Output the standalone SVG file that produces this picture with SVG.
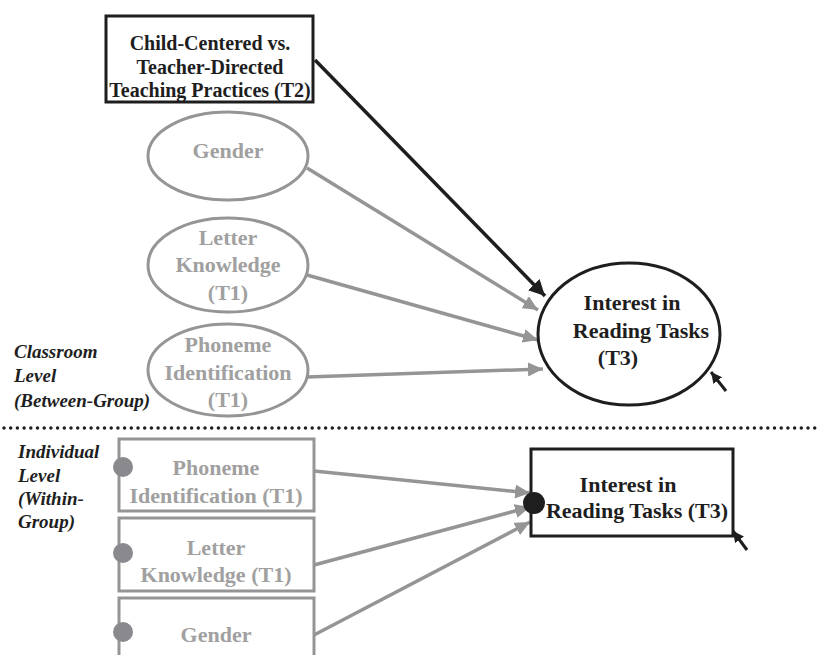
<svg xmlns="http://www.w3.org/2000/svg" width="821" height="655" viewBox="0 0 821 655">
<style>
text{font-family:"Liberation Serif","Times New Roman",serif;font-weight:bold;}
.blk{fill:#1e1e1e;font-size:20px;text-anchor:middle;}
.big{fill:#1e1e1e;font-size:22px;text-anchor:middle;}
.gt{fill:#a0a0a0;font-size:22px;text-anchor:middle;}
.lab{fill:#1e1e1e;font-size:19px;font-style:italic;}
.gs{fill:#fff;stroke:#959595;stroke-width:3;}
.bs{fill:#fff;stroke:#1e1e1e;stroke-width:3;}
.gl{stroke:#959595;stroke-width:3.5;fill:none;marker-end:url(#ga);}
.bl{stroke:#1e1e1e;stroke-width:3.5;fill:none;marker-end:url(#ba);}
.sl{stroke:#1e1e1e;stroke-width:3;fill:none;marker-end:url(#sa);}
.dot{fill:#8a8a8e;}
</style>
<defs>
<marker id="ga" markerUnits="userSpaceOnUse" markerWidth="16" markerHeight="14" refX="15" refY="7" orient="auto"><path d="M0,0 L15,7 L0,14 Z" fill="#959595"/></marker>
<marker id="ba" markerUnits="userSpaceOnUse" markerWidth="17" markerHeight="16" refX="16" refY="8" orient="auto"><path d="M0,0 L16,8 L0,16 Z" fill="#1e1e1e"/></marker>
<marker id="sa" markerUnits="userSpaceOnUse" markerWidth="12" markerHeight="12" refX="11" refY="5.5" orient="auto"><path d="M0,0 L11,5.5 L0,11 Z" fill="#1e1e1e"/></marker>
</defs>
<rect width="821" height="655" fill="#fff"/>
<line x1="4" y1="428" x2="821" y2="428" stroke="#1e1e1e" stroke-width="3.5" stroke-linecap="round" stroke-dasharray="0 6.7"/>
<g id="connectors">
<line class="bl" x1="315" y1="60" x2="545" y2="296"/>
<line class="gl" x1="307" y1="168" x2="538" y2="310"/>
<line class="gl" x1="307" y1="275" x2="538" y2="340"/>
<line class="gl" x1="307" y1="377" x2="543" y2="369"/>
<line class="gl" x1="314" y1="471" x2="530" y2="493"/>
<line class="gl" x1="314" y1="565" x2="530" y2="507"/>
<line class="gl" x1="314" y1="635" x2="530" y2="522"/>
<line class="sl" x1="726" y1="391" x2="711" y2="372"/>
<line class="sl" x1="747" y1="550" x2="733" y2="531"/>
</g>
<g id="labels">
<text class="lab" x="14" y="358">Classroom</text>
<text class="lab" x="14" y="382">Level</text>
<text class="lab" x="14" y="407">(Between-Group)</text>
<text class="lab" x="18" y="458">Individual</text>
<text class="lab" x="18" y="482">Level</text>
<text class="lab" x="18" y="505">(Within-</text>
<text class="lab" x="18" y="528">Group)</text>
</g>
<g id="t2">
<rect class="bs" x="106" y="16" width="207" height="86"/>
<text class="blk" x="210" y="50">Child-Centered vs.</text>
<text class="blk" x="210" y="74">Teacher-Directed</text>
<text class="blk" x="210" y="97">Teaching Practices (T2)</text>
</g>
<g id="gender-c">
<ellipse class="gs" cx="228" cy="156" rx="80" ry="44"/>
<text class="gt" x="228" y="158">Gender</text>
</g>
<g id="letter-c">
<ellipse class="gs" cx="228" cy="265" rx="80" ry="47"/>
<text class="gt" x="228" y="245">Letter</text>
<text class="gt" x="228" y="272">Knowledge</text>
<text class="gt" x="228" y="300">(T1)</text>
</g>
<g id="phoneme-c">
<ellipse class="gs" cx="228" cy="370" rx="80" ry="46"/>
<text class="gt" x="228" y="352">Phoneme</text>
<text class="gt" x="228" y="380">Identification</text>
<text class="gt" x="228" y="407">(T1)</text>
</g>
<g id="interest-c">
<ellipse class="bs" cx="629" cy="334" rx="91" ry="71"/>
<text class="big" x="632" y="310">Interest in</text>
<text class="big" x="641" y="338">Reading Tasks</text>
<text class="big" x="618" y="365">(T3)</text>
</g>
<g id="phoneme-w">
<rect class="gs" x="119" y="439" width="195" height="72"/>
<circle class="dot" cx="123" cy="467" r="10"/>
<text class="gt" x="216" y="475">Phoneme</text>
<text class="gt" x="216" y="503">Identification (T1)</text>
</g>
<g id="letter-w">
<rect class="gs" x="119" y="518" width="195" height="73"/>
<circle class="dot" cx="123" cy="553" r="10"/>
<text class="gt" x="216" y="555">Letter</text>
<text class="gt" x="216" y="582">Knowledge (T1)</text>
</g>
<g id="gender-w">
<rect class="gs" x="119" y="598" width="195" height="70"/>
<circle class="dot" cx="123" cy="632" r="10"/>
<text class="gt" x="216" y="642">Gender</text>
</g>
<g id="interest-w">
<rect class="bs" x="531" y="449" width="202" height="87"/>
<circle cx="534" cy="503" r="11" fill="#1e1e1e"/>
<text class="big" x="628" y="492">Interest in</text>
<text class="big" x="637" y="518">Reading Tasks (T3)</text>
</g>
</svg>
